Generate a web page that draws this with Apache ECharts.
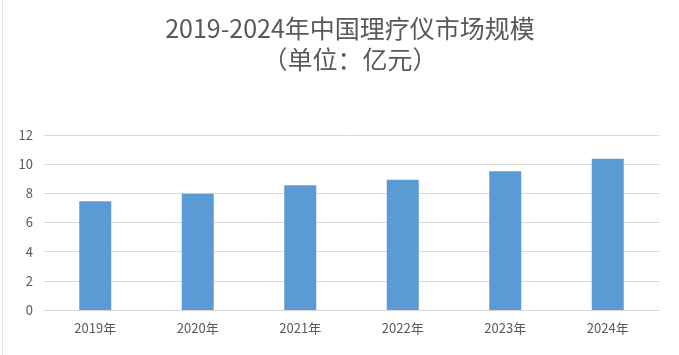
<!DOCTYPE html>
<html>
<head>
<meta charset="utf-8">
<script src="https://cdn.jsdelivr.net/npm/echarts@6/dist/echarts.min.js"></script>
<style>html,body{margin:0;padding:0;background:#fff;}#c{width:679px;height:355px;}</style>
</head>
<body>
<div id="c"></div>
<script>
var categories = ['2019年', '2020年', '2021年', '2022年', '2023年', '2024年'];
var values = [7.45, 7.98, 8.55, 8.94, 9.51, 10.38];
var titleText = '2019-2024年中国理疗仪市场规模\n（单位：亿元）';

var chart = echarts.init(document.getElementById('c'));
chart.setOption({
  animation: false,
  backgroundColor: '#ffffff',
  title: {
    text: titleText,
    left: 345,
    textAlign: 'center',
    top: 8,
    padding: 5,
    textStyle: {
      fontFamily: 'Noto Sans CJK SC',
      fontSize: 25,
      fontWeight: 'normal',
      color: '#595959',
      lineHeight: 31
    }
  },
  grid: { left: 44, right: 20, top: 135, bottom: 45, containLabel: false },
  xAxis: {
    type: 'category',
    data: categories,
    axisLine: { lineStyle: { color: '#d9d9d9', width: 1 } },
    axisTick: { show: false },
    axisLabel: { color: '#595959', fontSize: 13, margin: 12, fontFamily: 'Noto Sans CJK SC' }
  },
  yAxis: {
    type: 'value',
    min: 0, max: 12, interval: 2,
    axisLine: { show: false },
    axisTick: { show: false },
    axisLabel: { color: '#595959', fontSize: 13, margin: 11, fontFamily: 'Noto Sans CJK SC' },
    splitLine: { lineStyle: { color: '#d9d9d9', width: 1 } }
  },
  series: [{
    type: 'bar',
    data: values,
    barWidth: 32,
    itemStyle: { color: '#5b9bd5' }
  }],
  graphic: [{
    type: 'line',
    shape: { x1: 2.5, y1: 0, x2: 2.5, y2: 355 },
    style: { stroke: '#e0e0e0', lineWidth: 1 }
  }]
});
</script>
</body>
</html>
